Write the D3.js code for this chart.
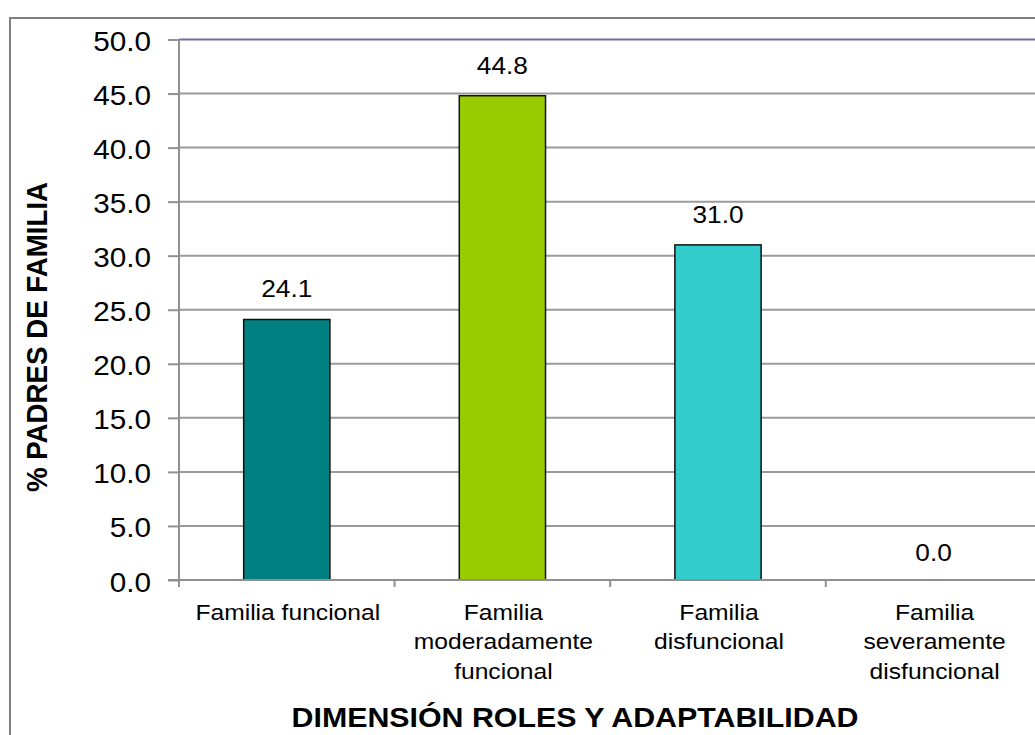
<!DOCTYPE html>
<html><head><meta charset="utf-8">
<script src="https://cdn.jsdelivr.net/npm/d3@7"></script>
<style>body{margin:0;background:#fff}svg{display:block}text{font-family:"Liberation Sans",Arial,sans-serif}</style>
</head><body><svg id="c" width="1035" height="735"></svg>
<script>
const categories = [["Familia funcional"],["Familia","moderadamente","funcional"],["Familia","disfuncional"],["Familia","severamente","disfuncional"]];
const values = [24.1, 44.8, 31.0, 0.0];
const colors = ["#008080", "#99CC00", "#33CCCC", "#999999"];
const yTicks = [0,5,10,15,20,25,30,35,40,45,50];
const yTitle = "% PADRES DE FAMILIA";
const xTitle = "DIMENSIÓN ROLES Y ADAPTABILIDAD";

const SX = 1.08; // horizontal text stretch
const svg = d3.select("#c");
const L = 179, STEP = 215.6, T = 39.5, B = 580;
const R = L + 4*STEP;
const x = d3.scaleBand().domain(d3.range(categories.length)).range([L, R]).paddingInner(0.6).paddingOuter(0.3);
const y = d3.scaleLinear().domain([0, 50]).range([B, T]);

// chart border
svg.append("rect").attr("x",10).attr("y",18).attr("width",1060).attr("height",760).attr("fill","none").attr("stroke","#808080").attr("stroke-width",2);

// gridlines
svg.append("g").selectAll("line").data(yTicks.filter(d=>d>0)).join("line")
  .attr("x1",L).attr("x2",R).attr("y1",d=>y(d)).attr("y2",d=>y(d))
  .attr("stroke",d=>d===50?"#6e6ea2":"#9a9a9a").attr("stroke-width",2);

// bars
svg.append("g").selectAll("rect").data(values).join("rect")
  .attr("x",(d,i)=>x(i)).attr("width",x.bandwidth())
  .attr("y",d=>y(d)).attr("height",d=>y(0)-y(d))
  .attr("fill",(d,i)=>colors[i]).attr("stroke","#111").attr("stroke-width",d=>d>0?1.5:0);

// y axis
const ya = svg.append("g").attr("transform",`translate(${L},0)`)
  .call(d3.axisLeft(y).tickValues(yTicks).tickFormat(d3.format(".1f")).tickSize(11));
ya.select(".domain").attr("stroke","#909090").attr("stroke-width",2).attr("d",`M0,${T}V${B}`);
ya.selectAll(".tick line").attr("stroke","#909090").attr("stroke-width",2);
ya.selectAll(".tick text").attr("x",null).attr("dy",null).attr("text-anchor","end")
  .attr("font-size",27.5).attr("fill","#000").attr("font-family","Liberation Sans, Arial, sans-serif")
  .attr("transform",`translate(${151-L},11) scale(${SX},1)`);

// x axis
const bounds = d3.range(5).map(i=>L+i*STEP);
svg.append("line").attr("x1",L-11).attr("x2",R).attr("y1",B).attr("y2",B).attr("stroke","#909090").attr("stroke-width",2);
svg.append("g").selectAll("line").data(bounds).join("line")
  .attr("x1",d=>d).attr("x2",d=>d).attr("y1",B).attr("y2",B+7).attr("stroke","#909090").attr("stroke-width",2);

// category labels
const cl = svg.append("g").selectAll("text").data(categories).join("text")
  .attr("text-anchor","middle").attr("font-size",22.8).attr("fill","#000")
  .attr("transform",(d,i)=>`translate(${x(i)+x.bandwidth()/2+1},620) scale(${SX},1)`);
cl.selectAll("tspan").data(d=>d).join("tspan").attr("x",0).attr("y",(d,j)=>j*29.5).text(d=>d);

// value labels
svg.append("g").selectAll("text").data(values).join("text")
  .attr("transform",(d,i)=>`translate(${x(i)+x.bandwidth()/2},${y(d)-(d>0?22:19)}) scale(${SX},1)`)
  .attr("text-anchor","middle").attr("font-size",24.3).attr("fill","#000")
  .text(d=>d3.format(".1f")(d));

// titles
svg.append("text").attr("transform",`translate(575,727) scale(${SX},1)`).attr("text-anchor","middle")
  .attr("font-size",28.1).attr("font-weight","bold").text(xTitle);
svg.append("text").attr("transform",`translate(47,337) rotate(-90) scale(1,${SX})`).attr("text-anchor","middle")
  .attr("font-size",27.7).attr("font-weight","bold").text(yTitle);
</script></body></html>
